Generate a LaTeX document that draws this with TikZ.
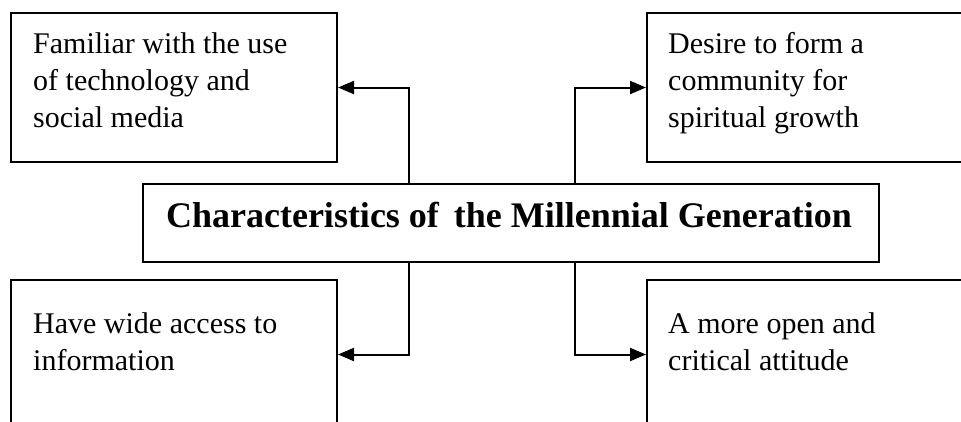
\documentclass[tikz,border=0pt]{standalone}
\usepackage{fontspec}
\setmainfont{Liberation Serif}
\usetikzlibrary{arrows.meta}
\tikzset{
  box/.style={draw=black, line width=2pt, fill=white, inner sep=0pt},
  itemtext/.style={inner sep=0pt, align=left, anchor=base west, font=\fontsize{30}{37}\selectfont},
  titletext/.style={inner sep=0pt, anchor=base, font=\fontsize{36}{40}\selectfont\bfseries},
  conn/.style={line width=2pt, -{Triangle[length=16pt,width=13pt]}}
}
\begin{document}
\begin{tikzpicture}[x=1pt,y=-1pt]
\useasboundingbox (0,0) rectangle (961,421);
\clip (0,0) rectangle (961,421);
\fill[white] (0,0) rectangle (961,421);
% boxes
\node[box, minimum width=326pt, minimum height=149pt] (tl) at (174,87.5) {};
\node[box, minimum width=326pt, minimum height=149pt] (tr) at (810,87.5) {};
\node[box, minimum width=326pt, minimum height=149pt] (bl) at (174,354.5) {};
\node[box, minimum width=326pt, minimum height=149pt] (br) at (810,354.5) {};
\node[box, minimum width=736pt, minimum height=78pt] (c) at (511,223) {};
% texts (anchor = baseline of the last line)
\node[titletext] (title) at (509,227) {Characteristics of\, the Millennial Generation};
\node[itemtext] (tlt) at (33,127) {Familiar with the use\\of technology and\\social media};
\node[itemtext] (trt) at (668,127) {Desire to form a\\community for\\spiritual growth};
\node[itemtext] (blt) at (33,370) {Have wide access to\\information};
\node[itemtext] (brt) at (668,370) {A more open and\\critical attitude};
% connectors
\coordinate (xl) at (409,0);
\coordinate (xr) at (575,0);
\draw[conn] (xl |- c.north) |- (tl.east);
\draw[conn] (xr |- c.north) |- (tr.west);
\draw[conn] (xl |- c.south) |- (bl.east);
\draw[conn] (xr |- c.south) |- (br.west);
\end{tikzpicture}
\end{document}
